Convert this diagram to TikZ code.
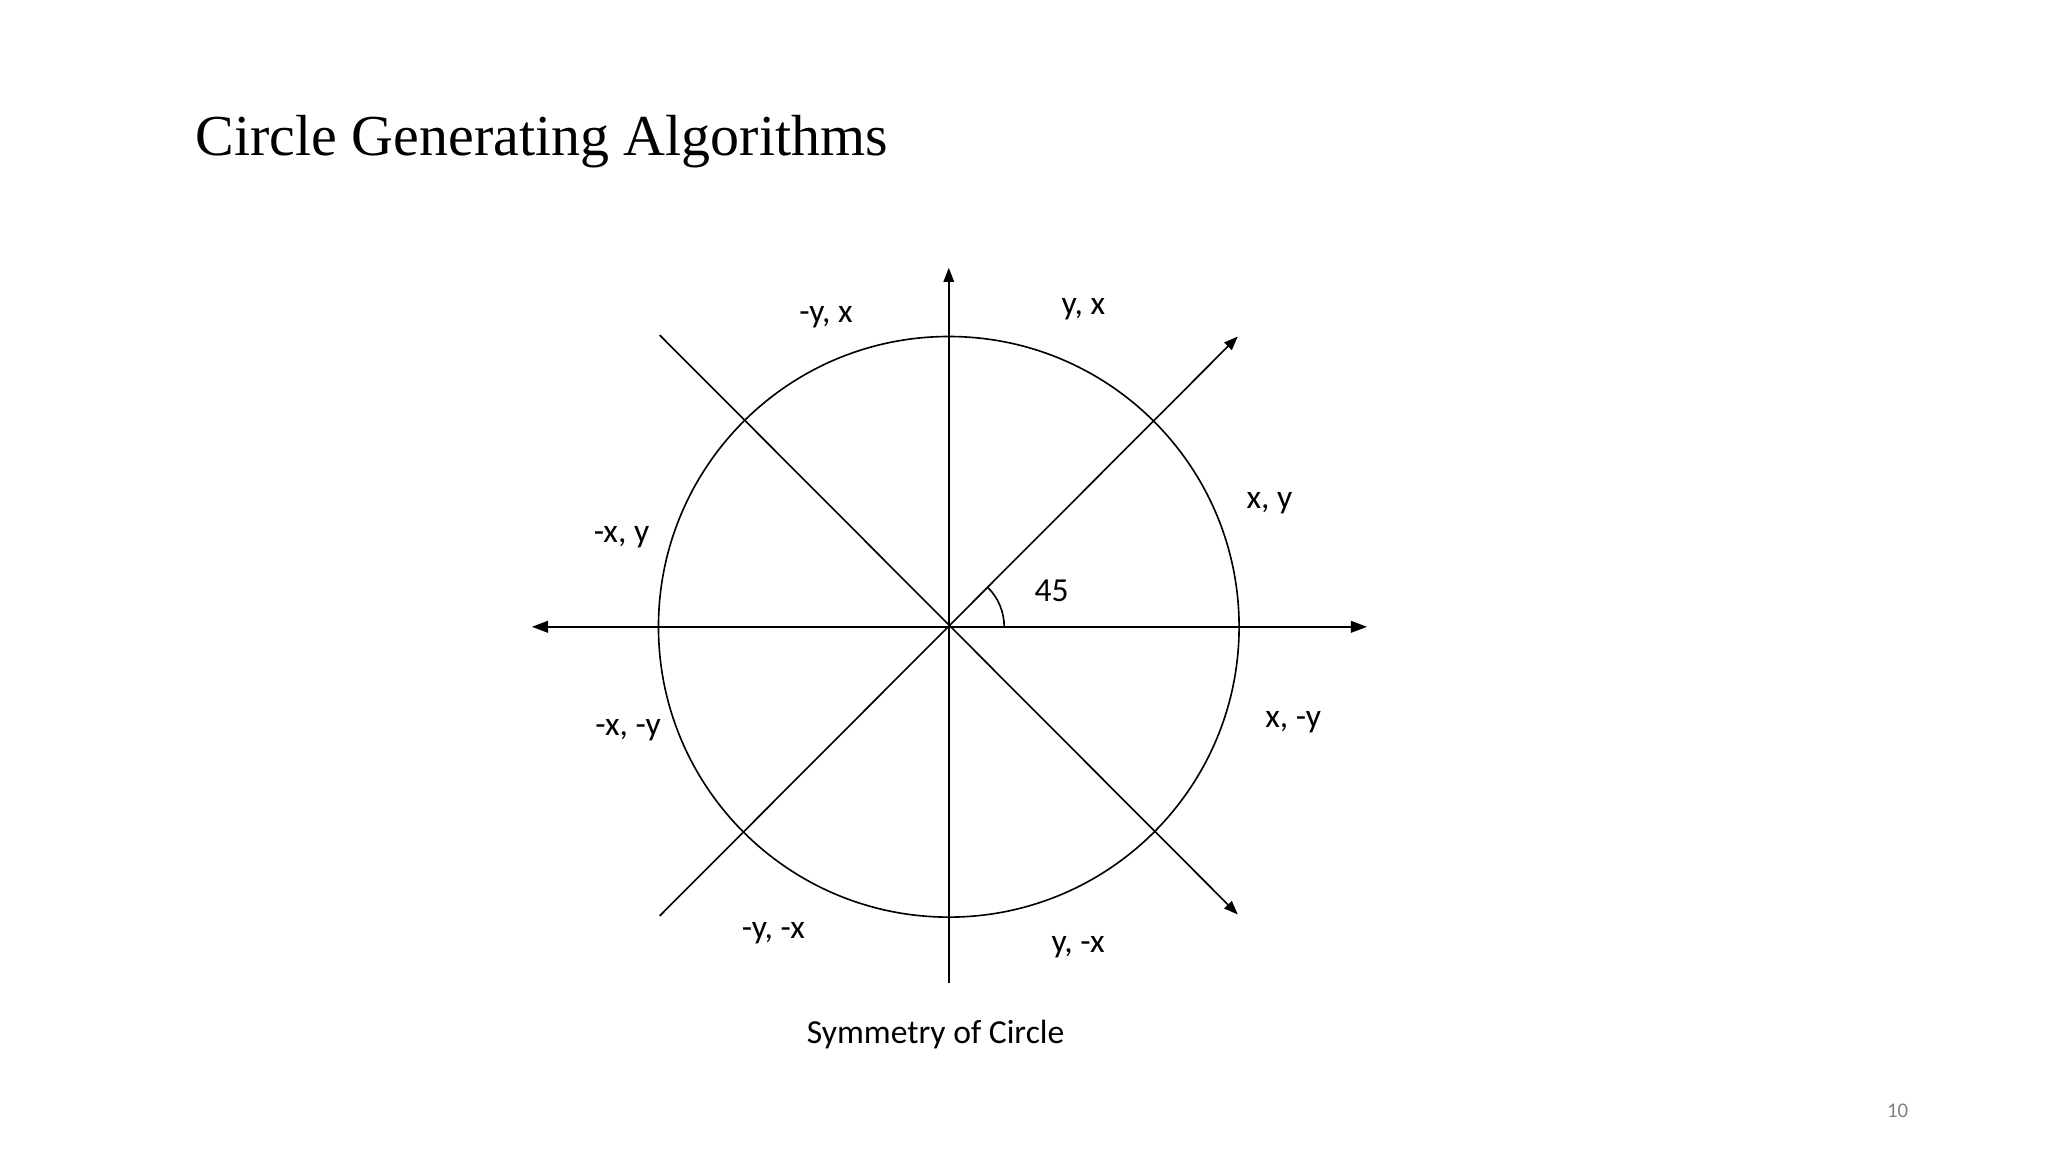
\documentclass[tikz,border=0pt]{standalone}
\usepackage{fontspec}
\setmainfont{Carlito}
\newfontfamily\titlefont{Liberation Serif}
\usetikzlibrary{arrows.meta,calc}
\begin{document}
\begin{tikzpicture}[x=0.02cm,y=-0.02cm,
  lbl/.style={font=\fontsize{14.5}{16}\selectfont,inner sep=0pt},
  ax/.style={line width=0.9pt,-{Triangle[length=7pt,width=5pt]}},
  ln/.style={line width=0.7pt}]
\useasboundingbox (0,0) rectangle (1552,873);
\node[anchor=west,inner sep=0pt,font=\titlefont\fontsize{25}{28}\selectfont] (title) at (148,107) {Circle Generating Algorithms};
\coordinate (O) at (719,475);
\node[draw,circle,ln,minimum size=440*0.02cm,inner sep=0pt] (c) at (O) {};
\coordinate (L) at (403,475); \coordinate (R) at (1036,475);
\coordinate (T) at (719,203); \coordinate (B) at (719,745);
\coordinate (d1a) at (500,694); \coordinate (d1b) at (938,255);
\coordinate (d2a) at (500,254); \coordinate (d2b) at (938,693);
\coordinate (arcs) at (761,475);
\draw[ax,{Triangle[length=7pt,width=5pt]}-{Triangle[length=7pt,width=5pt]}] (L) -- (R);
\draw[ax,-{Triangle[length=6pt,width=4.5pt]},line width=0.7pt] (B) -- (T);
\draw[ln,-{Triangle[length=6pt,width=4.5pt]}] (d1a) -- (d1b);
\draw[ln,-{Triangle[length=6pt,width=4.5pt]}] (d2a) -- (d2b);
\draw[ln] (arcs) arc[start angle=0,end angle=-45,radius=42];
\node[lbl] (a45) at (797,448) {45};
\node[lbl] (l1) at (626,240) {-y, x};
\node[lbl] (l2) at (821,234) {y, x};
\node[lbl] (l3) at (962,381) {x, y};
\node[lbl] (l4) at (471,407) {-x, y};
\node[lbl] (l5) at (476,553) {-x, -y};
\node[lbl] (l6) at (980,547) {x, -y};
\node[lbl] (l7) at (586,707) {-y, -x};
\node[lbl] (l8) at (817,718) {y, -x};
\node[lbl] (cap) at (709,784) {Symmetry of Circle};
\node[inner sep=0pt,font=\fontsize{9}{10}\selectfont,text=gray] (pg) at (1438,842) {10};
\end{tikzpicture}
\end{document}
